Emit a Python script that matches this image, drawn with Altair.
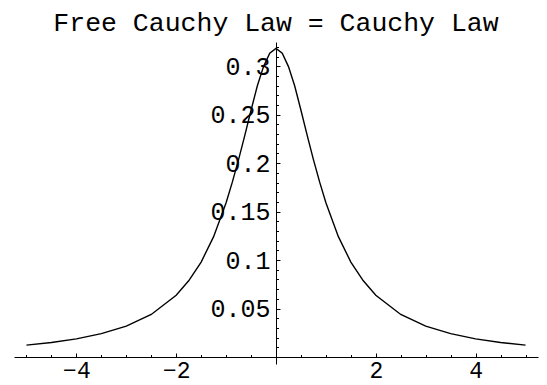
import altair as alt
import pandas as pd

# Values
xs = [-5, -4.5, -4, -3.5, -3, -2.5, -2, -1.75, -1.5, -1.25, -1, -0.875, -0.75, -0.625,
      -0.5, -0.375, -0.25, -0.125, 0,
      0.125, 0.25, 0.375, 0.5, 0.625, 0.75, 0.875, 1, 1.25, 1.5, 1.75, 2, 2.5, 3, 3.5,
      4, 4.5, 5]
ys = [0.0122, 0.0150, 0.0187, 0.0241, 0.0318, 0.0439, 0.0637, 0.0786, 0.0979, 0.1242,
      0.1592, 0.1804, 0.2037, 0.2287, 0.2546, 0.2796, 0.2996, 0.3135, 0.3183,
      0.3135, 0.2996, 0.2796, 0.2546, 0.2287, 0.2037, 0.1804, 0.1592, 0.1242, 0.0979,
      0.0786, 0.0637, 0.0439, 0.0318, 0.0241, 0.0187, 0.0150, 0.0122]

x_major = [-4, -2, 2, 4]
x_minor = [-5, -4.5, -3.5, -3, -2.5, -1.5, -1, -0.5, 0.5, 1, 1.5, 2.5, 3, 3.5, 4.5, 5]
y_major = [0.05, 0.1, 0.15, 0.2, 0.25, 0.3]
y_minor = [0.01, 0.02, 0.03, 0.04, 0.06, 0.07, 0.08, 0.09, 0.11, 0.12, 0.13, 0.14,
           0.16, 0.17, 0.18, 0.19, 0.21, 0.22, 0.23, 0.24, 0.26, 0.27, 0.28, 0.29,
           0.31, 0.32]
x_domain = [-5.25, 5.25]
y_domain = [0, 0.325]
title_text = "Free Cauchy Law = Cauchy Law"

df = pd.DataFrame({"x": xs, "y": ys})

W, H = 524, 315
X0 = (0 - x_domain[0]) / (x_domain[1] - x_domain[0]) * W  # pixel of x=0
FONT = "Liberation Mono"

xscale = alt.Scale(domain=x_domain, nice=False, zero=False)
yscale = alt.Scale(domain=y_domain, nice=False, zero=False)

base = alt.Chart(df)

# Layer 1: the curve, with labeled axes (domain lines)
curve = base.mark_line(color="black", strokeWidth=1.4).encode(
    x=alt.X("x:Q", scale=xscale, title=None,
            axis=alt.Axis(orient="bottom", values=x_major, ticks=False, grid=False,
                          domain=True, domainColor="black", domainWidth=1,
                          labelFont=FONT, labelFontSize=23, labelColor="black",
                          labelPadding=2, format="d", labelFlush=False)),
    y=alt.Y("y:Q", scale=yscale, title=None,
            axis=alt.Axis(orient="left", offset=-X0, values=y_major, ticks=False,
                          grid=False, domain=True, domainColor="black", domainWidth=1,
                          labelFont=FONT, labelFontSize=25, labelColor="black",
                          labelPadding=6, labelFlush=False,
                          labelExpr="replace(format(datum.value, '.2~f'), /0$/, '')")),
)

# Layer 2: major ticks pointing inward
major = base.mark_line(opacity=0).encode(
    x=alt.X("x:Q", scale=xscale, title=None,
            axis=alt.Axis(orient="top", offset=-H, values=x_major, ticks=True,
                          tickSize=4, tickColor="black", tickWidth=1, domain=False,
                          labels=False, grid=False)),
    y=alt.Y("y:Q", scale=yscale, title=None,
            axis=alt.Axis(orient="right", offset=-(W - X0), values=y_major, ticks=True,
                          tickSize=4, tickColor="black", tickWidth=1, domain=False,
                          labels=False, grid=False)),
)

# Layer 3: minor ticks
minor = base.mark_line(opacity=0).encode(
    x=alt.X("x:Q", scale=xscale, title=None,
            axis=alt.Axis(orient="top", offset=-H, values=x_minor, ticks=True,
                          tickSize=2.5, tickColor="black", tickWidth=1, domain=False,
                          labels=False, grid=False)),
    y=alt.Y("y:Q", scale=yscale, title=None,
            axis=alt.Axis(orient="right", offset=-(W - X0), values=y_minor, ticks=True,
                          tickSize=2.5, tickColor="black", tickWidth=1, domain=False,
                          labels=False, grid=False)),
)

# Layer 4: y axis extension below the x axis
stub = base.mark_line(opacity=0).encode(
    x=alt.X("x:Q", scale=xscale, title=None,
            axis=alt.Axis(orient="bottom", values=[0], ticks=True, tickSize=7,
                          tickColor="black", tickWidth=1, domain=False, labels=False,
                          grid=False)),
    y=alt.Y("y:Q", scale=yscale, title=None, axis=None),
)

chart = alt.layer(curve, major, minor, stub).resolve_axis(
    x="independent", y="independent"
).properties(
    width=W,
    height=H,
    title=alt.TitleParams(title_text, font=FONT, fontSize=26.5, fontWeight="normal",
                          color="black", anchor="middle", dy=-2),
    autosize=alt.AutoSizeParams(type="none"),
    padding={"left": 6, "top": 34, "right": 1, "bottom": 27},
    background="white",
).configure_view(stroke=None)

chart.save("out.html", embed_options={"renderer": "svg", "actions": False})
